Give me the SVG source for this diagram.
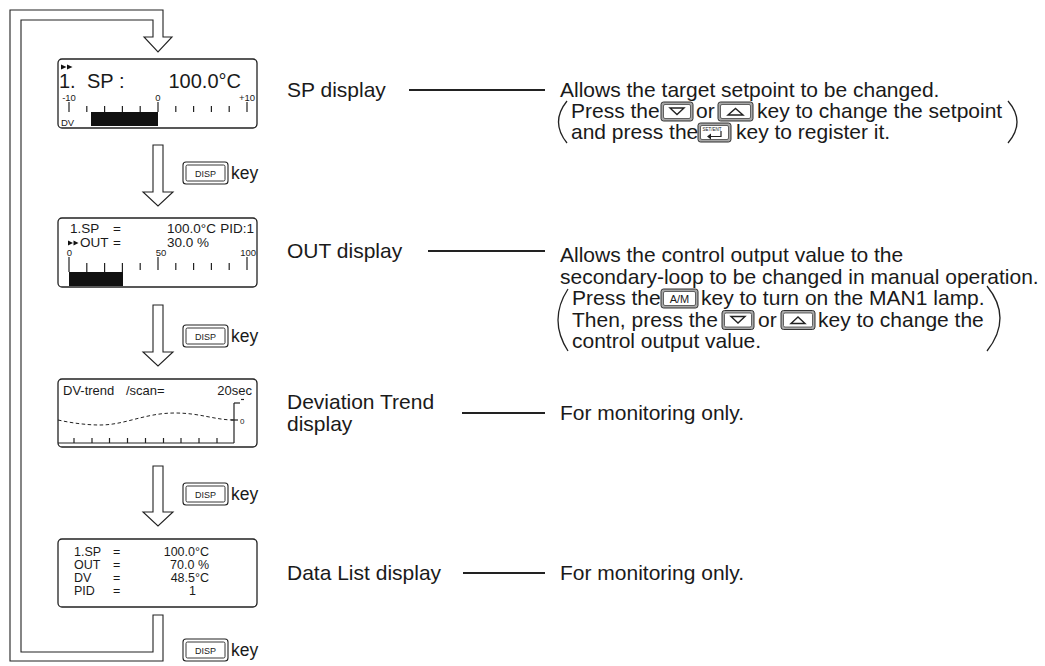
<svg xmlns="http://www.w3.org/2000/svg" width="1045" height="666" viewBox="0 0 1045 666">
<style>
.t{font-family:"Liberation Sans",Arial,sans-serif;fill:#1a1a1a}
.m{font-size:21px}
.k{font-size:17.5px}
.s{font-size:9.5px}
.lcd{fill:#fff;stroke:#222;stroke-width:1.3}
.ln{stroke:#222;stroke-width:1.8;fill:none}
.ar{fill:#fff;stroke:#222;stroke-width:1.1;stroke-linejoin:miter}
.tk{stroke:#222;stroke-width:1.2}
.par{fill:none;stroke:#222;stroke-width:1.3}
.ko{fill:#a8a8a8;stroke:#333;stroke-width:1}
.ki{fill:#fff;stroke:#444;stroke-width:0.8}
.gl{fill:none;stroke:#222;stroke-width:1.4;stroke-linejoin:miter}
.do{fill:#fff;stroke:#222;stroke-width:1.1}
.di{fill:#fff;stroke:#222;stroke-width:0.9}
</style>
<rect width="1045" height="666" fill="#fff"/>

<g id="connectors">
  <path class="ar" d="M153,37 V20 H21 V652 H153 V615 H163 V661 H10 V10 H163 V37 H172 L158,52 L144,37 Z"/>
  <path class="ar" d="M153,145 V192 H143 L158,206 L173,192 H163 V145 Z"/>
  <path class="ar" d="M153,305 V352 H143 L158,366 L173,352 H163 V305 Z"/>
  <path class="ar" d="M153,466 V512 H143 L158,526 L173,512 H163 V466 Z"/>
  <line class="ln" x1="409" y1="90" x2="545" y2="90"/>
  <line class="ln" x1="428" y1="251" x2="545" y2="251"/>
  <line class="ln" x1="462" y1="413" x2="545" y2="413"/>
  <line class="ln" x1="463" y1="573" x2="545" y2="573"/>
</g>

<g id="disp-keys">
  <g id="disp1">
    <rect class="do" x="183" y="162" width="45" height="22" rx="3"/>
    <rect class="di" x="186" y="165" width="39" height="16" rx="1.5"/>
    <text class="t" x="205.5" y="176.5" font-size="9" text-anchor="middle">DISP</text>
    <text class="t k" x="231" y="179">key</text>
  </g>
  <g id="disp2">
    <rect class="do" x="183" y="325" width="45" height="22" rx="3"/>
    <rect class="di" x="186" y="328" width="39" height="16" rx="1.5"/>
    <text class="t" x="205.5" y="339.5" font-size="9" text-anchor="middle">DISP</text>
    <text class="t k" x="231" y="342">key</text>
  </g>
  <g id="disp3">
    <rect class="do" x="183" y="483" width="45" height="22" rx="3"/>
    <rect class="di" x="186" y="486" width="39" height="16" rx="1.5"/>
    <text class="t" x="205.5" y="497.5" font-size="9" text-anchor="middle">DISP</text>
    <text class="t k" x="231" y="500">key</text>
  </g>
  <g id="disp4">
    <rect class="do" x="183" y="639" width="45" height="22" rx="3"/>
    <rect class="di" x="186" y="642" width="39" height="16" rx="1.5"/>
    <text class="t" x="205.5" y="653.5" font-size="9" text-anchor="middle">DISP</text>
    <text class="t k" x="231" y="656">key</text>
  </g>
</g>

<g id="sp-lcd">
  <rect class="lcd" x="58" y="59" width="199" height="69" rx="4"/>
  <polygon points="61,64.5 61,69.5 66.5,67" fill="#111"/>
  <polygon points="67,64.5 67,69.5 72.5,67" fill="#111"/>
  <text class="t" x="59" y="88" font-size="20">1.</text>
  <text class="t" x="87" y="88" font-size="20">SP :</text>
  <text class="t" x="241" y="88" font-size="20" text-anchor="end">100.0°C</text>
  <text class="t s" x="69" y="101" text-anchor="middle">-10</text>
  <text class="t s" x="158" y="101" text-anchor="middle">0</text>
  <text class="t s" x="255" y="101" text-anchor="end">+10</text>
  <g class="tk">
    <line x1="69" y1="102" x2="69" y2="112"/>
    <line x1="86.8" y1="106" x2="86.8" y2="112"/>
    <line x1="104.6" y1="106" x2="104.6" y2="112"/>
    <line x1="122.4" y1="106" x2="122.4" y2="112"/>
    <line x1="140.2" y1="106" x2="140.2" y2="112"/>
    <line x1="158" y1="102" x2="158" y2="112"/>
    <line x1="175.8" y1="106" x2="175.8" y2="112"/>
    <line x1="193.6" y1="106" x2="193.6" y2="112"/>
    <line x1="211.4" y1="106" x2="211.4" y2="112"/>
    <line x1="229.2" y1="106" x2="229.2" y2="112"/>
    <line x1="247" y1="102" x2="247" y2="112"/>
  </g>
  <rect x="91" y="112" width="67" height="14" fill="#111"/>
  <text class="t s" x="61" y="126">DV</text>
</g>

<g id="out-lcd">
  <rect class="lcd" x="58" y="218" width="199" height="69" rx="4"/>
  <g class="t" font-size="13.5">
    <text x="70" y="233">1.SP</text>
    <text x="113" y="233">=</text>
    <text x="216" y="233" text-anchor="end">100.0°C</text>
    <text x="254" y="233" text-anchor="end">PID:1</text>
    <text x="80" y="247">OUT</text>
    <text x="113" y="247">=</text>
    <text x="209" y="247" text-anchor="end">30.0 %</text>
  </g>
  <polygon points="68,240.5 68,245.5 73,243" fill="#111"/>
  <polygon points="73.5,240.5 73.5,245.5 78.5,243" fill="#111"/>
  <text class="t s" x="69.5" y="256" text-anchor="middle">0</text>
  <text class="t s" x="161" y="256" text-anchor="middle">50</text>
  <text class="t s" x="256" y="256" text-anchor="end">100</text>
  <g class="tk">
    <line x1="69" y1="257" x2="69" y2="272"/>
    <line x1="86.8" y1="263" x2="86.8" y2="272"/>
    <line x1="104.6" y1="263" x2="104.6" y2="272"/>
    <line x1="122.4" y1="263" x2="122.4" y2="272"/>
    <line x1="140.2" y1="263" x2="140.2" y2="270"/>
    <line x1="158" y1="257" x2="158" y2="270"/>
    <line x1="175.8" y1="263" x2="175.8" y2="270"/>
    <line x1="193.6" y1="263" x2="193.6" y2="270"/>
    <line x1="211.4" y1="263" x2="211.4" y2="270"/>
    <line x1="229.2" y1="263" x2="229.2" y2="270"/>
    <line x1="247" y1="257" x2="247" y2="270"/>
  </g>
  <rect x="69" y="272" width="54" height="14" fill="#111"/>
</g>

<g id="dv-trend-lcd">
  <rect class="lcd" x="58" y="379" width="199" height="68" rx="4"/>
  <text class="t" x="63" y="395" font-size="13">DV-trend</text>
  <text class="t" x="126" y="395" font-size="13">/scan=</text>
  <text class="t" x="252" y="395" font-size="13" text-anchor="end">20sec</text>
  <path d="M58,420 C72,423 86,425 100,425 C125,425 145,413 175,413 C200,413 215,420 234,420" fill="none" stroke="#222" stroke-width="1" stroke-dasharray="3.5,2.5"/>
  <g class="tk">
    <line x1="234" y1="403" x2="234" y2="443"/>
    <line x1="234" y1="403" x2="240" y2="403"/>
    <line x1="241" y1="399.5" x2="244" y2="399.5"/>
    <line x1="231" y1="420" x2="238" y2="420"/>
    <line x1="58" y1="443" x2="234" y2="443"/>
    <line x1="74" y1="438" x2="74" y2="443"/>
    <line x1="92" y1="438" x2="92" y2="443"/>
    <line x1="109.5" y1="438" x2="109.5" y2="443"/>
    <line x1="127.5" y1="438" x2="127.5" y2="443"/>
    <line x1="145.5" y1="438" x2="145.5" y2="443"/>
    <line x1="163.5" y1="438" x2="163.5" y2="443"/>
    <line x1="181" y1="438" x2="181" y2="443"/>
    <line x1="199" y1="438" x2="199" y2="443"/>
    <line x1="217" y1="438" x2="217" y2="443"/>
  </g>
  <text class="t" x="240" y="424" font-size="8">0</text>
</g>

<g id="data-list-lcd">
  <rect class="lcd" x="58" y="539" width="199" height="68" rx="4"/>
  <g class="t" font-size="12.5">
    <text x="74" y="556">1.SP</text><text x="113" y="556">=</text><text x="209" y="556" text-anchor="end">100.0°C</text>
    <text x="74" y="569">OUT</text><text x="113" y="569">=</text><text x="209" y="569" text-anchor="end">70.0 %</text>
    <text x="74" y="582">DV</text><text x="113" y="582">=</text><text x="209" y="582" text-anchor="end">48.5°C</text>
    <text x="74" y="595">PID</text><text x="113" y="595">=</text><text x="189" y="595">1</text>
  </g>
</g>

<g id="sp-desc">
  <text class="t m" x="287" y="97">SP display</text>
  <text class="t m" x="560" y="97">Allows the target setpoint to be changed.</text>
  <path class="par" d="M567,101 Q550,122 567,143"/>
  <text class="t m" x="571" y="118">Press the</text>
  <g id="key-down-1">
    <rect class="ko" x="661" y="102" width="32" height="19" rx="2.5"/>
    <rect class="ki" x="663.5" y="104.5" width="27" height="14" rx="1.5"/>
    <polygon class="gl" points="670,108 684,108 677,114.5"/>
  </g>
  <text class="t m" x="696" y="118">or</text>
  <g id="key-up-1">
    <rect class="ko" x="718" y="102" width="35" height="19" rx="2.5"/>
    <rect class="ki" x="720.5" y="104.5" width="30" height="14" rx="1.5"/>
    <polygon class="gl" points="728,115 743,115 735.5,108.5"/>
  </g>
  <text class="t m" x="757" y="118">key to change the setpoint</text>
  <text class="t m" x="571" y="139">and press the</text>
  <g id="key-setent">
    <rect class="ko" x="698" y="123" width="33" height="19" rx="2.5"/>
    <rect class="ki" x="700.5" y="125.5" width="28" height="14" rx="1.5"/>
    <text class="t" x="702.5" y="130.5" font-size="4.5">SET/ENT</text>
    <path d="M721,131 V136.5 H710" fill="none" stroke="#222" stroke-width="1.2"/>
    <polygon points="707,136.5 711,133.5 711,139.5" fill="#222"/>
  </g>
  <text class="t m" x="736" y="139">key to register it.</text>
  <path class="par" d="M1008,101 Q1026,122 1008,143"/>
</g>

<g id="out-desc">
  <text class="t m" x="287" y="258">OUT display</text>
  <text class="t m" x="560" y="262">Allows the control output value to the</text>
  <text class="t m" x="560" y="283.5">secondary-loop to be changed in manual operation.</text>
  <path class="par" d="M568,289 Q548,320 568,351"/>
  <text class="t m" x="572" y="305">Press the</text>
  <g id="key-am">
    <rect class="ko" x="661" y="289" width="37" height="19" rx="2.5"/>
    <rect class="ki" x="663.5" y="291.5" width="32" height="14" rx="1.5"/>
    <text class="t" x="679.5" y="302.5" font-size="11" text-anchor="middle">A/M</text>
  </g>
  <text class="t m" x="701" y="305">key to turn on the MAN1 lamp.</text>
  <text class="t m" x="572" y="326.5">Then, press the</text>
  <g id="key-down-2">
    <rect class="ko" x="722" y="310.5" width="32" height="19" rx="2.5"/>
    <rect class="ki" x="724.5" y="313" width="27" height="14" rx="1.5"/>
    <polygon class="gl" points="731,316.5 745,316.5 738,323"/>
  </g>
  <text class="t m" x="758" y="326.5">or</text>
  <g id="key-up-2">
    <rect class="ko" x="781" y="310.5" width="34" height="19" rx="2.5"/>
    <rect class="ki" x="783.5" y="313" width="29" height="14" rx="1.5"/>
    <polygon class="gl" points="791,323.5 805,323.5 798,317"/>
  </g>
  <text class="t m" x="818" y="326.5">key to change the</text>
  <text class="t m" x="572" y="348">control output value.</text>
  <path class="par" d="M987,286 Q1013,318 987,351"/>
</g>

<g id="dv-desc">
  <text class="t m" x="287" y="409">Deviation Trend</text>
  <text class="t m" x="287" y="431">display</text>
  <text class="t m" x="560" y="420">For monitoring only.</text>
</g>

<g id="data-desc">
  <text class="t m" x="287" y="580">Data List display</text>
  <text class="t m" x="560" y="580">For monitoring only.</text>
</g>
</svg>
